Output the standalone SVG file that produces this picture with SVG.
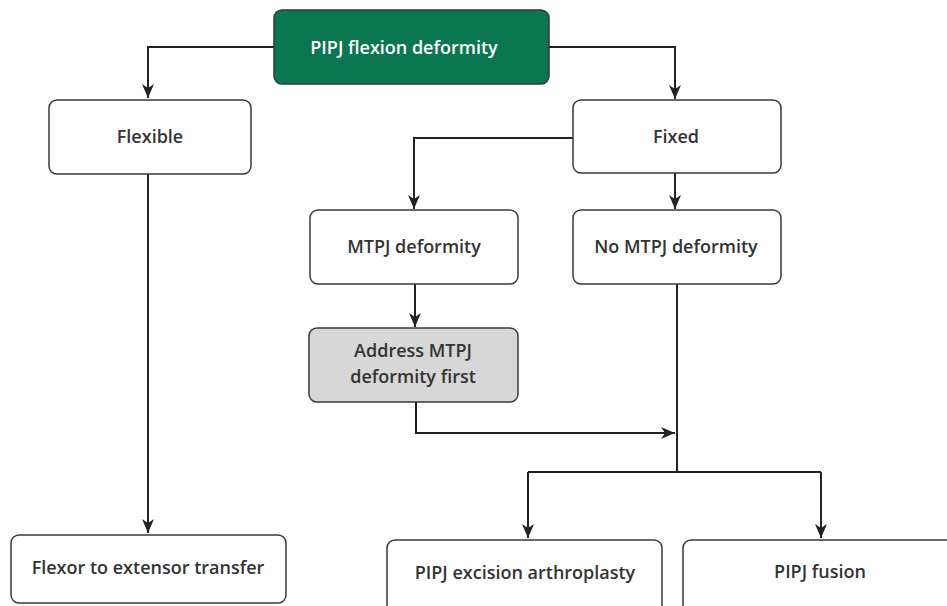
<svg xmlns="http://www.w3.org/2000/svg" width="947" height="606" viewBox="0 0 947 606">
<style>
.box{fill:#fff;stroke:#3a3a3a;stroke-width:1.5}
.t{font-family:"Open Sans","Liberation Sans",sans-serif;font-weight:600;font-size:18px;fill:#333;text-anchor:middle}
.c{fill:none;stroke:#222;stroke-width:2}
</style>
<defs>
<marker id="ah" markerWidth="12" markerHeight="14" viewBox="0 0 12 14" refX="14" refY="6" orient="auto" markerUnits="userSpaceOnUse">
<path d="M0,0 L14,6 L0,12 L4,6 z" fill="#222"/>
</marker>
</defs>
<rect width="947" height="606" fill="#fff"/>
<g id="connectors">
<path class="c" d="M274,47 H148 V98" marker-end="url(#ah)"/>
<path class="c" d="M549,47 H675 V99" marker-end="url(#ah)"/>
<path class="c" d="M573,138 H414 V209" marker-end="url(#ah)"/>
<path class="c" d="M675,173 V209" marker-end="url(#ah)"/>
<path class="c" d="M415,284 V327" marker-end="url(#ah)"/>
<path class="c" d="M416,402 V433 H675" marker-end="url(#ah)"/>
<path class="c" d="M677,284 V472"/>
<path class="c" d="M148,174 V533" marker-end="url(#ah)"/>
<path class="c" d="M528,472 H821"/>
<path class="c" d="M528,472 V538" marker-end="url(#ah)"/>
<path class="c" d="M821,472 V538" marker-end="url(#ah)"/>
</g>
<g id="n_root">
<rect x="274" y="10" width="275" height="74" rx="8" fill="#0b7750" stroke="#2f3a34" stroke-width="1.5"/>
<text class="t" x="404" y="54" style="fill:#fff">PIPJ flexion deformity</text>
</g>
<g id="n_flexible">
<rect class="box" x="49" y="100" width="202" height="74" rx="8"/>
<text class="t" x="150" y="143">Flexible</text>
</g>
<g id="n_fixed">
<rect class="box" x="573" y="100" width="208" height="73" rx="8"/>
<text class="t" x="676" y="143">Fixed</text>
</g>
<g id="n_mtpj">
<rect class="box" x="310" y="210" width="208" height="74" rx="8"/>
<text class="t" x="414" y="253">MTPJ deformity</text>
</g>
<g id="n_nomtpj">
<rect class="box" x="573" y="210" width="208" height="74" rx="8"/>
<text class="t" x="676" y="253">No MTPJ deformity</text>
</g>
<g id="n_address">
<rect x="309" y="328" width="209" height="74" rx="8" fill="#d6d7d6" stroke="#3a3a3a" stroke-width="1.5"/>
<text class="t" x="413" y="357">Address MTPJ</text>
<text class="t" x="413" y="383">deformity first</text>
</g>
<g id="n_flexor">
<rect class="box" x="11" y="535" width="275" height="68" rx="8"/>
<text class="t" x="148" y="574">Flexor to extensor transfer</text>
</g>
<g id="n_excision">
<rect class="box" x="387" y="540" width="275" height="90" rx="8"/>
<text class="t" x="525" y="579">PIPJ excision arthroplasty</text>
</g>
<g id="n_fusion">
<rect class="box" x="683" y="540" width="275" height="90" rx="8"/>
<text class="t" x="820" y="578">PIPJ fusion</text>
</g>
</svg>
